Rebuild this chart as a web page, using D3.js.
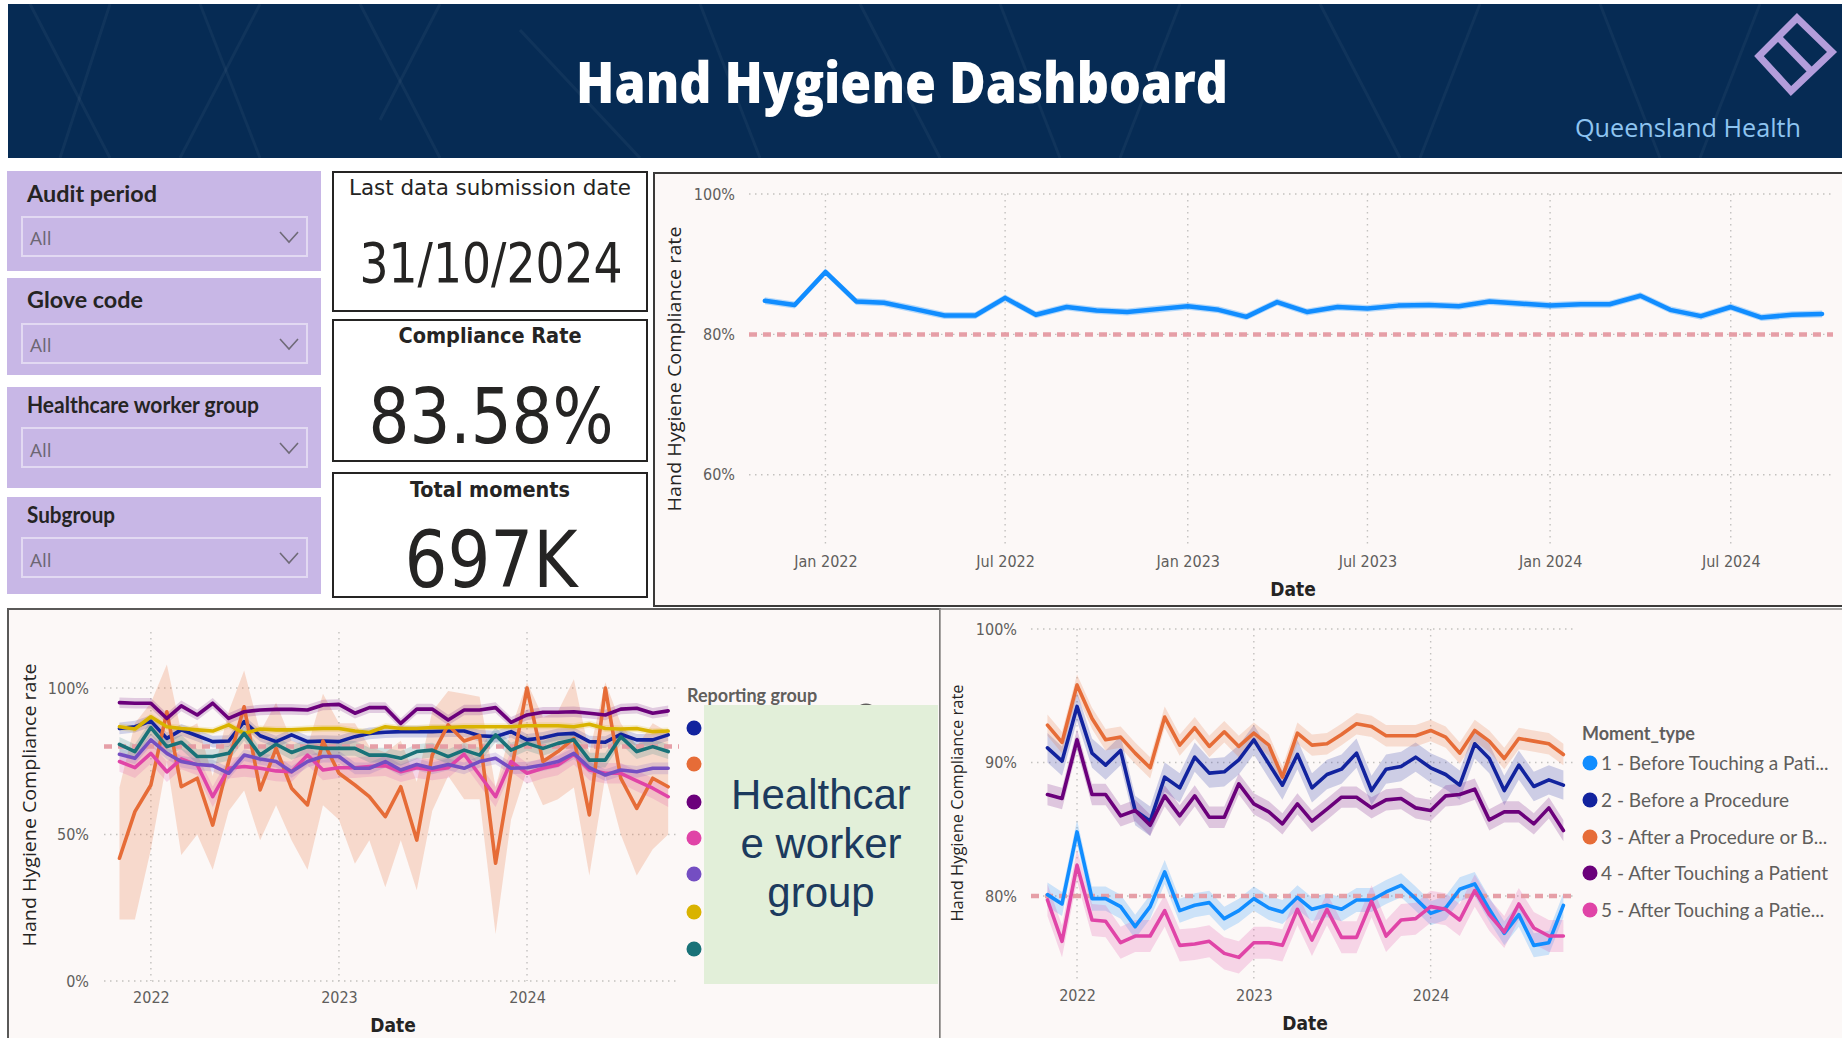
<!DOCTYPE html>
<html>
<head>
<meta charset="utf-8">
<script src="https://cdn.jsdelivr.net/npm/d3@7"></script>
<style>
  html, body { margin: 0; padding: 0; background: #fff; }
  svg { display: block; }
</style>
</head>
<body>
<svg id="dash" width="1842" height="1038"></svg>
<script>
// monthly audit periods
var months = ['2021-11', '2021-12', '2022-01', '2022-02', '2022-03', '2022-04', '2022-05', '2022-06',
  '2022-07', '2022-08', '2022-09', '2022-10', '2022-11', '2022-12', '2023-01', '2023-02', '2023-03',
  '2023-04', '2023-05', '2023-06', '2023-07', '2023-08', '2023-09', '2023-10', '2023-11', '2023-12',
  '2024-01', '2024-02', '2024-03', '2024-04', '2024-05', '2024-06', '2024-07', '2024-08', '2024-09', '2024-10'];

var filterTitles = ['Audit period', 'Glove code', 'Healthcare worker group', 'Subgroup'];
var filterValues = ['All', 'All', 'All', 'All'];
var kpiTitles = ['Last data submission date', 'Compliance Rate', 'Total moments'];
var kpiValues = ['31/10/2024', '83.58%', '697K'];

// overall compliance (%)
var overallRate = [84.8, 84.2, 88.9, 84.7, 84.5, 83.6, 82.7, 82.7, 85.2, 82.8, 83.9, 83.4, 83.2, 83.6, 84.0, 83.5, 82.5, 84.6,
  83.2, 83.9, 83.7, 84.1, 84.2, 84.0, 84.7, 84.4, 84.1, 84.3, 84.3, 85.5, 83.5, 82.6, 83.9, 82.4, 82.8, 82.9];

// reporting groups (%), names hidden behind the overlay box
var groupColors = ['#12239e', '#e66c37', '#6b007b', '#e044a7', '#744ec2', '#d9b300', '#197278'];
var group1 = [86.2, 86.8, 88.7, 82.8, 85.7, 83.7, 81.7, 81.9, 88.5, 83.7, 81.7, 84.0, 81.7, 81.9, 81.7, 83.4, 84.5, 84.9,
  85.1, 85.1, 85.1, 85.3, 85.3, 83.7, 83.4, 85.1, 82.3, 83.0, 84.2, 84.5, 81.7, 81.5, 84.2, 82.3, 82.3, 84.0];
var group2 = [41.9, 57.8, 66.9, 91.9, 66.3, 69.2, 53.2, 74.9, 93.6, 65.2, 79.4, 65.8, 60.1, 81.9, 70.9, 66.9, 62.9, 56.1,
  66.3, 48.1, 77.1, 87.4, 81.9, 83.7, 40.2, 71.4, 100, 74.9, 78.3, 82.8, 56.7, 100, 69.2, 58.9, 69.2, 66.3];
var group2Low = [21, 21, 45, 75, 43, 50, 38, 58, 65, 48, 60, 48, 38, 60, 55, 40, 48, 32,
  48, 31, 58, 70, 62, 62, 16, 55, 72, 60, 62, 66, 36, 70, 50, 36, 45, 50];
var group2High = [66, 88, 95, 108, 85, 88, 70, 92, 106, 85, 95, 82, 80, 98, 88, 88, 80, 78,
  82, 68, 92, 99, 98, 97, 66, 86, 102, 90, 92, 103, 78, 102, 88, 80, 88, 85];
var group3 = [95.0, 94.8, 94.8, 89.6, 93.9, 90.8, 94.8, 89.6, 91.9, 92.5, 92.7, 92.7, 92.5, 94.2, 94.4, 91.4, 93.3, 93.3,
  87.9, 92.8, 92.8, 89.1, 92.5, 92.5, 93.3, 88.3, 90.8, 91.7, 91.7, 91.9, 91.4, 90.8, 92.8, 93.1, 91.4, 92.2];
var group4 = [74.9, 72.8, 77.7, 71.4, 75.8, 73.7, 62.9, 72.6, 73.2, 72.6, 71.7, 71.4, 77.1, 72.0, 72.8, 72.8, 73.2, 73.5,
  71.4, 72.8, 72.0, 72.8, 77.4, 70.3, 62.9, 74.9, 70.9, 72.6, 73.7, 77.4, 72.0, 70.9, 70.9, 68.3, 65.8, 62.9];
var group5 = [77.4, 76.0, 82.3, 77.7, 74.9, 73.9, 73.5, 70.9, 77.1, 75.8, 74.9, 71.4, 74.9, 76.6, 76.6, 72.6, 72.6, 74.9,
  72.0, 73.9, 72.6, 73.9, 72.6, 74.9, 76.0, 72.6, 72.8, 73.7, 74.9, 77.7, 72.8, 70.3, 72.0, 71.4, 72.6, 72.6];
var group6 = [86.8, 86.0, 90.2, 86.8, 86.2, 85.7, 85.3, 87.4, 84.5, 86.0, 85.7, 85.7, 86.0, 86.2, 86.2, 85.3, 84.8, 86.8,
  86.2, 86.2, 86.5, 86.5, 86.8, 86.8, 86.8, 86.8, 87.1, 87.1, 87.1, 86.8, 87.6, 86.2, 86.0, 86.2, 85.1, 85.3];
var group7 = [80.8, 78.3, 86.5, 80.0, 81.5, 76.6, 76.6, 77.7, 84.5, 77.1, 80.8, 78.0, 80.0, 79.4, 79.4, 79.4, 77.1, 77.1,
  76.0, 78.3, 78.8, 76.6, 78.8, 77.1, 84.0, 78.8, 81.1, 79.4, 81.1, 82.3, 75.4, 75.4, 83.4, 78.3, 80.0, 78.3];
// half width of the confidence band (%)
var groupMargins = [2, 0, 1.8, 3.5, 2, 1.2, 2.5];

// moment types (%)
var momentNames = ['1 - Before Touching a Pati...', '2 - Before a Procedure', '3 - After a Procedure or B...',
  '4 - After Touching a Patient', '5 - After Touching a Patie...'];
var momentColors = ['#118dff', '#12239e', '#e66c37', '#6b007b', '#e044a7'];
var moment1 = [80.1, 79.4, 84.8, 79.8, 79.8, 79.2, 77.7, 79.2, 81.8, 78.9, 79.3, 79.5, 78.3, 78.9, 79.8, 79.1, 78.8, 79.9,
  79.0, 79.3, 79.0, 79.7, 79.7, 80.3, 80.8, 79.8, 78.7, 79.1, 80.5, 80.9, 79.0, 77.2, 78.6, 76.3, 76.5, 79.3];
var moment2 = [91.1, 90.1, 94.2, 90.7, 89.8, 90.9, 86.4, 85.6, 88.9, 88.1, 90.4, 89.2, 89.3, 90.2, 91.7, 89.9, 88.3, 90.6,
  88.1, 89.1, 89.5, 90.7, 87.9, 89.5, 89.7, 90.4, 89.6, 89.1, 88.3, 91.4, 90.3, 87.9, 89.8, 88.2, 88.7, 88.3];
var moment3 = [92.8, 91.5, 95.8, 93.3, 91.7, 91.9, 90.7, 89.6, 93.4, 91.3, 92.6, 91.2, 92.3, 91.2, 92.2, 91.3, 88.9, 92.2,
  91.3, 91.4, 92.1, 92.9, 92.7, 92.0, 92.0, 92.0, 92.4, 91.9, 90.7, 92.4, 91.6, 90.3, 91.8, 91.6, 91.4, 90.6];
var moment4 = [87.6, 87.3, 91.7, 87.6, 87.6, 86.0, 86.4, 85.3, 87.5, 86.0, 87.5, 85.9, 85.9, 88.4, 86.9, 86.3, 85.4, 86.9,
  85.6, 86.5, 87.4, 87.4, 86.6, 87.2, 87.3, 86.6, 86.4, 87.5, 87.6, 88.0, 85.7, 86.3, 86.3, 85.4, 86.6, 84.9];
var moment5 = [79.7, 76.6, 82.3, 78.2, 78.1, 76.5, 77.0, 77.0, 78.9, 76.3, 76.4, 76.6, 75.7, 75.4, 76.5, 76.5, 76.3, 79.0,
  76.7, 79.0, 76.9, 76.9, 79.6, 77.0, 78.2, 78.3, 79.2, 79.0, 78.2, 80.4, 78.6, 77.3, 79.4, 77.6, 77.0, 77.0];
var momentMargins = [0.9, 1.1, 0.8, 0.8, 1.2];

var target = 80;

var svg = d3.select('#dash');
var dates = months.map(d3.timeParse('%Y-%m'));
var tickFont = '"DejaVu Sans Condensed", "Liberation Sans Narrow", "Noto Sans", sans-serif';
var uiFont = 'Lato, "Open Sans", "Noto Sans", sans-serif';
var panelFill = '#fcf8f7';

function _each(list, fn) { list.forEach(fn); }

var drawHeader = function() {
  var g = svg.append('g');
  g.append('rect').attr('x', 8).attr('y', 4).attr('width', 1834).attr('height', 154).attr('fill', '#062b54');
  // faint geometric pattern in the banner
  var pattern = [[30, 4, 110, 158], [110, 4, 60, 158], [200, 4, 260, 158], [260, 4, 180, 158], [360, 4, 440, 158],
    [440, 4, 380, 120], [520, 30, 640, 158], [700, 4, 760, 158], [860, 4, 940, 158], [1000, 4, 1060, 158],
    [1180, 4, 1120, 158], [1320, 4, 1400, 158], [1480, 4, 1420, 158], [1600, 4, 1660, 158], [1700, 158, 1760, 4]];
  g.selectAll('line.pat').data(pattern).enter().append('line')
    .attr('x1', function(d) { return d[0]; }).attr('y1', function(d) { return d[1]; })
    .attr('x2', function(d) { return d[2]; }).attr('y2', function(d) { return d[3]; })
    .attr('stroke', '#ffffff').attr('stroke-opacity', 0.045).attr('stroke-width', 3);

  g.append('text').attr('x', 576).attr('y', 103)
    .attr('textLength', 652).attr('lengthAdjust', 'spacingAndGlyphs')
    .attr('font-family', '"Open Sans", Lato, sans-serif').attr('font-size', 56).attr('font-weight', 800)
    .attr('fill', '#ffffff').text('Hand Hygiene Dashboard');

  g.append('path').attr('d', 'M1797,18 L1832,52 L1791,91 L1759,56 Z')
    .attr('fill', 'none').attr('stroke', '#b39ddb').attr('stroke-width', 7).attr('stroke-linejoin', 'miter');
  g.append('line').attr('x1', 1778).attr('y1', 37).attr('x2', 1812).attr('y2', 72)
    .attr('stroke', '#b39ddb').attr('stroke-width', 7);

  g.append('text').attr('x', 1575).attr('y', 137)
    .attr('textLength', 226).attr('lengthAdjust', 'spacingAndGlyphs')
    .attr('font-family', '"Open Sans", sans-serif').attr('font-size', 25)
    .attr('fill', '#8ec4f0').text('Queensland Health');
};

var drawFilters = function() {
  var layout = [
    { top: 171, bottom: 271, box: 217, titleY: 202, allY: 245, w: 130 },
    { top: 278, bottom: 375, box: 324, titleY: 308, allY: 352, w: 116 },
    { top: 387, bottom: 488, box: 428, titleY: 413, allY: 457, w: 232 },
    { top: 497, bottom: 594, box: 538, titleY: 523, allY: 567, w: 88 }
  ];
  var g = svg.append('g');
  _each(filterTitles, function(title, i) {
    var l = layout[i];
    g.append('rect').attr('x', 7).attr('y', l.top).attr('width', 314).attr('height', l.bottom - l.top)
      .attr('fill', '#c8b7e6');
    g.append('text').attr('x', 27).attr('y', l.titleY)
      .attr('textLength', l.w).attr('lengthAdjust', 'spacingAndGlyphs')
      .attr('font-family', uiFont).attr('font-size', 22).attr('font-weight', 700)
      .attr('fill', '#252423').text(title);
    g.append('rect').attr('x', 22).attr('y', l.box).attr('width', 285).attr('height', 39)
      .attr('fill', 'none').attr('stroke', '#e2d9f2').attr('stroke-width', 2);
    g.append('text').attr('x', 30).attr('y', l.allY)
      .attr('font-family', '"Open Sans", sans-serif').attr('font-size', 19).attr('fill', '#6c6673').text(filterValues[i]);
    g.append('path').attr('d', 'M280,' + (l.box + 15) + ' L289,' + (l.box + 25) + ' L298,' + (l.box + 15))
      .attr('fill', 'none').attr('stroke', '#6f6a78').attr('stroke-width', 1.6);
  });
};

var drawCards = function() {
  var layout = [
    { top: 172, h: 139, titleY: 195, tw: 282, bold: 400, valueY: 282, vw: 263, vs: 56 },
    { top: 320, h: 141, titleY: 343, tw: 183, bold: 700, valueY: 443, vw: 245, vs: 76 },
    { top: 473, h: 124, titleY: 497, tw: 160, bold: 700, valueY: 587, vw: 173, vs: 78 }
  ];
  var g = svg.append('g');
  _each(kpiTitles, function(title, i) {
    var l = layout[i];
    g.append('rect').attr('x', 333).attr('y', l.top).attr('width', 314).attr('height', l.h)
      .attr('fill', '#ffffff').attr('stroke', '#252423').attr('stroke-width', 2);
    g.append('text').attr('x', 490 - l.tw / 2).attr('y', l.titleY)
      .attr('textLength', l.tw).attr('lengthAdjust', 'spacingAndGlyphs')
      .attr('font-family', tickFont).attr('font-size', 22).attr('font-weight', l.bold)
      .attr('fill', '#252423').text(title);
    g.append('text').attr('x', 491 - l.vw / 2).attr('y', l.valueY)
      .attr('textLength', l.vw).attr('lengthAdjust', 'spacingAndGlyphs')
      .attr('font-family', tickFont).attr('font-size', l.vs).attr('font-weight', 500)
      .attr('fill', '#252423').text(kpiValues[i]);
  });
};

var lineChart = function(cfg) {
  var g = svg.append('g');
  var x = d3.scaleTime().domain(cfg.xDomain).range(cfg.xRange);
  var y = d3.scaleLinear().domain(cfg.yDomain).range(cfg.yRange);

  var grid = g.append('g').attr('stroke', '#c3c1bf').attr('stroke-width', 1.4).attr('stroke-dasharray', '1.5,4.5');
  grid.selectAll('line.h').data(cfg.yTicks).enter().append('line')
    .attr('x1', cfg.xRange[0]).attr('x2', cfg.gridRight)
    .attr('y1', function(d) { return y(d); }).attr('y2', function(d) { return y(d); });
  grid.selectAll('line.v').data(cfg.xTicks).enter().append('line')
    .attr('x1', function(d) { return x(d); }).attr('x2', function(d) { return x(d); })
    .attr('y1', cfg.gridTop).attr('y2', cfg.gridBottom);

  var yAxis = g.append('g').attr('transform', 'translate(' + cfg.yLabelX + ',0)')
    .call(d3.axisLeft(y).tickValues(cfg.yTicks).tickFormat(d3.format('.0%')).tickSize(0).tickPadding(0));
  var xAxis = g.append('g').attr('transform', 'translate(0,' + cfg.xLabelY + ')')
    .call(d3.axisBottom(x).tickValues(cfg.xTicks).tickFormat(d3.timeFormat(cfg.xFormat)).tickSize(0).tickPadding(0));
  [yAxis, xAxis].forEach(function(a) {
    a.select('.domain').remove();
    a.selectAll('text').attr('font-family', tickFont).attr('font-size', 16).attr('fill', '#605e5c');
  });

  var band = d3.area()
    .x(function(d) { return x(d.date); })
    .y0(function(d) { return y(d.lo / 100); })
    .y1(function(d) { return y(d.hi / 100); });
  var line = d3.line()
    .x(function(d) { return x(d.date); })
    .y(function(d) { return y(d.v / 100); });

  var rows = cfg.series.map(function(s) {
    return dates.map(function(date, i) {
      var m = s.margin || 0;
      return {
        date: date, v: s.values[i],
        lo: s.low ? s.low[i] : s.values[i] - m,
        hi: s.high ? s.high[i] : s.values[i] + m
      };
    });
  });

  cfg.series.forEach(function(s, i) {
    g.append('path').datum(rows[i]).attr('d', band)
      .attr('fill', s.color).attr('fill-opacity', s.bandOpacity || 0.2);
  });

  g.append('line').attr('x1', cfg.xRange[0]).attr('x2', cfg.gridRight)
    .attr('y1', y(target / 100)).attr('y2', y(target / 100))
    .attr('stroke', '#e59aa2').attr('stroke-opacity', 0.95).attr('stroke-width', 4.5)
    .attr('stroke-dasharray', '8,6');

  cfg.series.forEach(function(s, i) {
    g.append('path').datum(rows[i]).attr('d', line)
      .attr('fill', 'none').attr('stroke', s.color).attr('stroke-width', cfg.lineWidth)
      .attr('stroke-linejoin', 'round').attr('stroke-linecap', 'round');
  });

  g.append('text')
    .attr('transform', 'translate(' + cfg.yTitle[0] + ',' + cfg.yTitle[1] + ') rotate(-90)')
    .attr('text-anchor', 'middle').attr('x', -cfg.yTitle[2] / 2).attr('dx', cfg.yTitle[2] / 2)
    .attr('textLength', cfg.yTitle[2]).attr('lengthAdjust', 'spacingAndGlyphs')
    .attr('font-family', '"Open Sans", "Noto Sans", sans-serif').attr('font-size', cfg.yTitle[3])
    .attr('fill', '#252423').text('Hand Hygiene Compliance rate');

  g.append('text').attr('x', cfg.xTitle[0]).attr('y', cfg.xTitle[1]).attr('text-anchor', 'middle')
    .attr('font-family', tickFont).attr('font-size', 19).attr('font-weight', 700)
    .attr('fill', '#252423').text('Date');

  return g;
};

var drawPanels = function() {
  var g = svg.append('g');
  g.append('rect').attr('x', 654).attr('y', 173).attr('width', 1200).attr('height', 433)
    .attr('fill', panelFill).attr('stroke', '#3b3a39').attr('stroke-width', 2);
  g.append('rect').attr('x', 8).attr('y', 609).attr('width', 932).attr('height', 440)
    .attr('fill', panelFill).attr('stroke', '#5a5958').attr('stroke-width', 2);
  g.append('rect').attr('x', 940).attr('y', 609).attr('width', 910).attr('height', 440)
    .attr('fill', panelFill).attr('stroke', '#8a8886').attr('stroke-width', 1.5);
};

var drawOverall = function() {
  lineChart({
    xDomain: [new Date(2021, 9, 16), new Date(2024, 9, 12)], xRange: [749, 1833],
    yDomain: [0.5, 1], yRange: [545, 194],
    yTicks: [0.6, 0.8, 1.0], xTicks: [new Date(2022, 0, 1), new Date(2022, 6, 1), new Date(2023, 0, 1),
      new Date(2023, 6, 1), new Date(2024, 0, 1), new Date(2024, 6, 1)],
    xFormat: '%b %Y', gridRight: 1833, gridTop: 194, gridBottom: 548,
    yLabelX: 735, xLabelY: 556, lineWidth: 4.5,
    yTitle: [681, 369, 285, 19], xTitle: [1293, 596],
    series: [{ values: overallRate, color: '#118dff', margin: 0.5, bandOpacity: 0.3 }]
  });
};

var drawGroups = function() {
  var groups = [group1, group2, group3, group4, group5, group6, group7];
  lineChart({
    xDomain: [new Date(2021, 9, 2), new Date(2024, 9, 22)], xRange: [104, 679],
    yDomain: [0, 1], yRange: [981, 688],
    yTicks: [0, 0.5, 1.0], xTicks: [new Date(2022, 0, 1), new Date(2023, 0, 1), new Date(2024, 0, 1)],
    xFormat: '%Y', gridRight: 679, gridTop: 632, gridBottom: 981,
    yLabelX: 89, xLabelY: 992, lineWidth: 3.6,
    yTitle: [36, 805, 283, 19], xTitle: [393, 1032],
    series: groups.map(function(values, i) {
      return {
        values: values, color: groupColors[i], margin: groupMargins[i],
        low: i === 1 ? group2Low : null, high: i === 1 ? group2High : null,
        bandOpacity: i === 1 ? 0.22 : 0.18
      };
    })
  });

  var g = svg.append('g');
  g.append('text').attr('x', 687).attr('y', 702)
    .attr('font-family', uiFont).attr('font-size', 18).attr('font-weight', 700)
    .attr('fill', '#605e5c').text('Reporting group');
  var legendY = [728, 764, 802, 838, 874, 912, 949];
  g.selectAll('circle.lg').data(groupColors).enter().append('circle')
    .attr('cx', 694).attr('cy', function(d, i) { return legendY[i]; }).attr('r', 7.5)
    .attr('fill', function(d) { return d; });
  g.append('circle').attr('cx', 866).attr('cy', 716).attr('r', 11)
    .attr('fill', 'none').attr('stroke', '#605e5c').attr('stroke-width', 3);

  // overlay note box
  g.append('rect').attr('x', 704).attr('y', 705).attr('width', 234).attr('height', 279).attr('fill', '#e2efd9');
  g.selectAll('text.note').data(['Healthcar', 'e worker', 'group']).enter().append('text')
    .attr('x', 821).attr('y', function(d, i) { return 809 + i * 49; }).attr('text-anchor', 'middle')
    .attr('font-family', '"Liberation Sans", Arial, sans-serif').attr('font-size', 42)
    .attr('fill', '#1c3a5e').text(function(d) { return d; });
};

var drawMoments = function() {
  var moments = [moment1, moment2, moment3, moment4, moment5];
  lineChart({
    xDomain: [new Date(2021, 8, 28), new Date(2024, 9, 25)], xRange: [1031, 1575],
    yDomain: [0.7348, 1], yRange: [983, 629],
    yTicks: [0.8, 0.9, 1.0], xTicks: [new Date(2022, 0, 1), new Date(2023, 0, 1), new Date(2024, 0, 1)],
    xFormat: '%Y', gridRight: 1575, gridTop: 629, gridBottom: 983,
    yLabelX: 1017, xLabelY: 990, lineWidth: 3.6,
    yTitle: [963, 803, 237, 16], xTitle: [1305, 1030],
    series: moments.map(function(values, i) {
      return { values: values, color: momentColors[i], margin: momentMargins[i], bandOpacity: 0.2 };
    })
  });

  var g = svg.append('g');
  g.append('text').attr('x', 1582).attr('y', 740)
    .attr('font-family', uiFont).attr('font-size', 18).attr('font-weight', 700)
    .attr('fill', '#605e5c').text('Moment_type');
  var legendY = [763, 800, 837, 873, 910];
  var items = g.selectAll('g.item').data(momentNames).enter().append('g')
    .attr('transform', function(d, i) { return 'translate(0,' + legendY[i] + ')'; });
  items.append('circle').attr('cx', 1590).attr('cy', 0).attr('r', 7.5)
    .attr('fill', function(d, i) { return momentColors[i]; });
  items.append('text').attr('x', 1601).attr('y', 6.5)
    .attr('font-family', uiFont).attr('font-size', 19).attr('fill', '#605e5c')
    .text(function(d) { return d; });
};

drawHeader();
drawFilters();
drawCards();
drawPanels();
drawOverall();
drawGroups();
drawMoments();
</script>
</body>
</html>
